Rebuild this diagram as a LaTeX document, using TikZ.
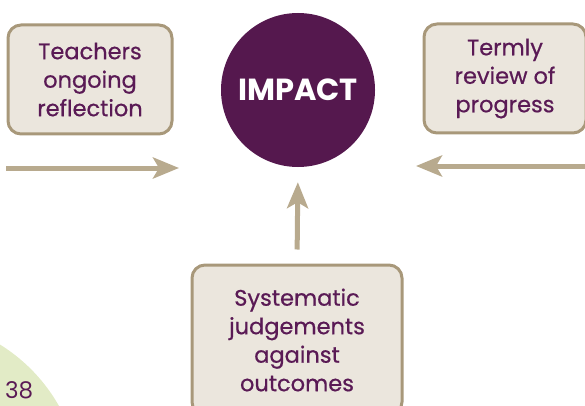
\documentclass[tikz,border=0pt]{standalone}
\usepackage{fontspec}
\setmainfont{Poppins}
\usetikzlibrary{arrows.meta,positioning}

\definecolor{boxfill}{HTML}{EBE6DD}
\definecolor{boxline}{HTML}{A8987A}
\definecolor{arrowtan}{HTML}{B8AA8E}
\definecolor{impactpurple}{HTML}{55184E}
\definecolor{textpurple}{HTML}{5A1A55}
\definecolor{leafgreen}{HTML}{E2EBC6}

\tikzset{
  infobox/.style={rectangle,rounded corners=13pt,draw=boxline,line width=3pt,fill=boxfill,
    text=textpurple,align=center,font=\addfontfeatures{FakeBold=0.6}\fontsize{22.5}{28.5}\selectfont},
  flowarrow/.style={draw=arrowtan,line width=5pt,-{Stealth[length=26pt,width=21pt,inset=6pt]}}
}

\begin{document}
\begin{tikzpicture}[x=1pt,y=-1pt]

\useasboundingbox (0,0) rectangle (585,406);
\clip (0,0) rectangle (585,406);

%green page corner
\fill[leafgreen] (-90,490) circle (171);
\node[anchor=base west,inner sep=0pt,text=textpurple,font=\fontsize{23}{23}\selectfont] at (5,398) (pagenum) {38};

%%%%%%%

%draw the three boxes
\node[infobox,minimum width=164pt,minimum height=109pt] at (90,79.5) (reflect) {Teachers\\ongoing\\reflection};
\node[infobox,minimum width=162pt,minimum height=109pt] at (505,78.5) (review) {Termly\\review of\\progress};
\node[infobox,minimum width=210pt,minimum height=150pt] at (297,340) (judge) {Systematic\\judgements\\against\\outcomes};

%draw the circle
\node[circle,fill=impactpurple,minimum size=154pt,text=white,font=\bfseries\fontsize{30.5}{30.5}\selectfont] at (298,90) (impact) {IMPACT};

%arrows towards the circle
\coordinate (leftstart) at (6,168);
\coordinate (leftend) at (179,168);
\coordinate (rightstart) at (590,166);
\coordinate (rightend) at (416,166);
\draw[flowarrow] (leftstart) -- (leftend);
\draw[flowarrow] (rightstart) -- (rightend);
\draw[flowarrow,shorten <=14pt,shorten >=15pt] (judge.north) -- (impact.south);

\end{tikzpicture}
\end{document}
